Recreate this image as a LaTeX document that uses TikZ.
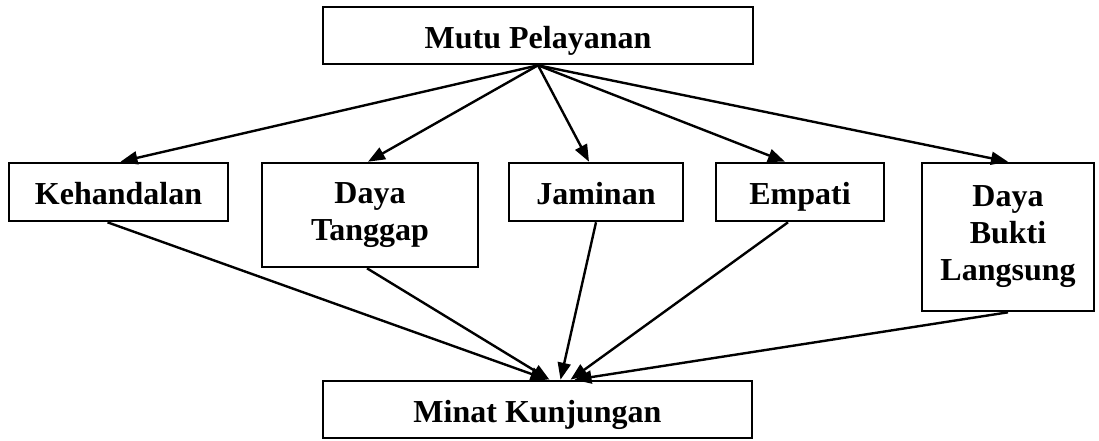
\documentclass[tikz,border=0pt]{standalone}
\usepackage{fontspec}
\setmainfont{Liberation Serif}
\usetikzlibrary{arrows.meta}
\begin{document}
\begin{tikzpicture}[x=1pt,y=-1pt,
  box/.style={draw,line width=2.6pt,inner sep=0pt,align=center,
    font=\fontsize{32}{37}\selectfont\bfseries},
  one/.style={text height=25pt,text depth=0pt},
  arr/.style={line width=2.4pt,-{Triangle[length=17pt,width=13pt]}}]
\useasboundingbox (0,0) rectangle (1099,440);
\node[box,one,minimum width=430pt,minimum height=57pt] (top) at (538,35.5) {Mutu Pelayanan};
\node[box,one,minimum width=219pt,minimum height=58pt] (kh) at (118.5,192) {Kehandalan};
\node[box,minimum width=216pt,minimum height=104pt] (dt) at (370,215) {Daya\\Tanggap};
\node[box,one,minimum width=174pt,minimum height=58pt] (ja) at (596,192) {Jaminan};
\node[box,one,minimum width=168pt,minimum height=58pt] (em) at (800,192) {Empati};
\node[box,minimum width=172pt,minimum height=148pt] (db) at (1008,237) {Daya\\Bukti\\Langsung};
\node[box,one,minimum width=429pt,minimum height=57pt] (mk) at (537.5,409.5) {Minat Kunjungan};
\draw[arr] (top.south) -- ([xshift=2pt]kh.north);
\draw[arr] (top.south) -- ([xshift=-2pt]dt.north);
\draw[arr] (top.south) -- ([xshift=-7pt]ja.north);
\draw[arr] (top.south) -- ([xshift=-15pt]em.north);
\draw[arr] (top.south) -- (db.north);
\draw[arr] ([xshift=-11pt]kh.south) -- ([xshift=10pt]mk.north);
\draw[arr] ([xshift=-3pt]dt.south) -- ([xshift=12pt]mk.north);
\draw[arr] (ja.south) -- ([xshift=23pt]mk.north);
\draw[arr] ([xshift=-12pt]em.south) -- ([xshift=33pt]mk.north);
\draw[arr] (db.south) -- ([xshift=37pt]mk.north);
\end{tikzpicture}
\end{document}
